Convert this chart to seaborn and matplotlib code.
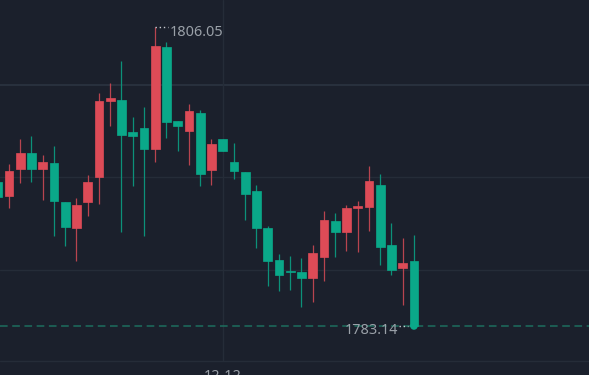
import numpy as np
import pandas as pd
import matplotlib
matplotlib.use("Agg")
import matplotlib.pyplot as plt
import seaborn as sns

# ---- data ----
idx = list(range(-1, 37))
opens = [1794.16, 1793.11, 1795.13, 1796.36, 1795.13, 1795.59, 1792.63, 1790.62, 1792.63,
         1794.54, 1800.39, 1800.46, 1797.99, 1798.27, 1796.71, 1804.50, 1798.85, 1798.07,
         1799.44, 1795.10, 1797.43, 1795.69, 1794.93, 1793.50, 1790.64, 1788.21, 1787.35,
         1787.27, 1786.79, 1788.42, 1791.18, 1790.33, 1792.15, 1792.25, 1793.96, 1789.34,
         1787.56, 1788.14]
closes = [1793.01, 1795.00, 1796.36, 1795.13, 1795.69, 1792.73, 1790.72, 1792.42, 1794.16,
          1800.36, 1800.57, 1797.78, 1797.71, 1796.71, 1804.57, 1798.76, 1798.47, 1799.60,
          1794.80, 1797.05, 1796.54, 1795.00, 1793.27, 1790.62, 1788.14, 1787.07, 1787.27,
          1786.79, 1788.70, 1791.28, 1790.33, 1792.15, 1792.30, 1794.24, 1789.19, 1787.45,
          1787.94, 1783.14]
highs = [1794.16, 1795.54, 1797.43, 1797.71, 1796.25, 1796.94, 1792.63, 1792.91, 1794.72,
         1800.95, 1801.72, 1803.42, 1799.14, 1799.90, 1806.05, 1804.90, 1798.85, 1800.11,
         1799.67, 1797.42, 1797.43, 1797.12, 1794.93, 1793.96, 1790.79, 1788.63, 1788.52,
         1788.34, 1789.34, 1791.94, 1791.77, 1792.40, 1792.71, 1795.41, 1794.75, 1791.02,
         1789.85, 1790.13]
lows = [1793.01, 1792.17, 1794.06, 1794.14, 1792.78, 1790.03, 1789.26, 1788.14, 1791.56,
        1792.45, 1798.45, 1790.31, 1793.88, 1790.05, 1795.69, 1797.51, 1796.56, 1795.49,
        1793.88, 1793.96, 1796.54, 1794.41, 1791.25, 1789.09, 1786.20, 1785.82, 1785.92,
        1784.59, 1784.98, 1786.61, 1788.42, 1788.90, 1788.80, 1790.43, 1787.83, 1787.07,
        1784.77, 1783.14]
high_label = "1806.05"
last_label = "1783.14"
x_tick_label = "12-12"
grid_prices = [1801.59, 1794.52, 1787.43, 1780.46]

df = pd.DataFrame({"i": idx, "open": opens, "close": closes, "high": highs, "low": lows})
df["up"] = df["close"] >= df["open"]

BG = "#1b202c"
RED = "#dd4b57"
RED_W = "#b8444f"
GREEN = "#0aa889"
GREEN_W = "#0c917a"
GRID = "#252c38"
TXT = "#9aa0a8"

sns.set_theme(style="dark", rc={"axes.facecolor": BG, "figure.facecolor": BG})
plt.rcParams["font.family"] = ["Noto Sans", "DejaVu Sans"]

fig = plt.figure(figsize=(5.89, 3.75), dpi=100)
ax = fig.add_axes([0, 0, 1, 1])
ax.set_facecolor(BG)

ymax, ymin = 1808.094, 1808.094 - 0.07655 * 375
ax.set_ylim(ymin, ymax)
ax.set_xlim(-0.8, 51.56)

# grid
for k, g in enumerate(grid_prices):
    ax.axhline(g, color=GRID if k else "#28303d", lw=1.5 if k == 0 else 1.0, zorder=0)
ax.plot([19, 19], [grid_prices[-1], ymax], color=GRID, lw=1.0, zorder=0)

# wicks
for up, wc in [(True, RED_W), (False, GREEN_W)]:
    sub = df[df["up"] == up]
    ax.vlines(sub["i"], sub["low"], sub["high"], color=wc, lw=0.9, zorder=2)

# bodies
minh = 0.15
body_bottom = np.minimum(df["open"], df["close"])
body_h = np.maximum(np.abs(df["close"] - df["open"]), minh)
body_bottom = np.where(np.abs(df["close"] - df["open"]) < minh,
                       (df["open"] + df["close"]) / 2 - minh / 2, body_bottom)
colors = [RED if u else GREEN for u in df["up"]]
ax.bar(df["i"], body_h, bottom=body_bottom, width=0.77, color=colors,
       edgecolor=colors, linewidth=0.5, zorder=3)

# current price dashed line
last = df.iloc[-1]
ax.axhline(last["close"], color="#1d6e5e", lw=1.1, ls=(0, (5, 3)), zorder=1)
sns.scatterplot(x=[last["i"]], y=[last["close"]], color=GREEN, s=30,
                edgecolor="none", ax=ax, zorder=4, legend=False)

# high label
hi_i = int(df.loc[df["high"].idxmax(), "i"])
ax.plot([hi_i, hi_i + 1.15], [df["high"].max()] * 2, color="#c9ccd2", lw=1.0,
        ls=(0, (1, 2)), zorder=4)
ax.text(hi_i + 1.3, df["high"].max() - 0.45, high_label, color=TXT, fontsize=10.4,
        ha="left", va="center", zorder=5)

# last label
ax.plot([last["i"] - 1.3, last["i"] - 0.5], [last["close"]] * 2, color="#c9ccd2", lw=1.0,
        ls=(0, (1, 2)), zorder=4)
ax.text(last["i"] - 1.45, last["close"] - 0.38, last_label, color=TXT, fontsize=10.4,
        ha="right", va="center", zorder=5)

# x tick label (cut off by the bottom edge, as in the reference)
ax.text(19, ymax - 0.07655 * 369, x_tick_label, color=TXT, fontsize=10.4,
        ha="center", va="top", zorder=5, clip_on=False)

ax.set_xticks([])
ax.set_yticks([])
for s in ax.spines.values():
    s.set_visible(False)
ax.set_xlabel("")
ax.set_ylabel("")

fig.savefig("out.png", dpi=100, facecolor=BG)
